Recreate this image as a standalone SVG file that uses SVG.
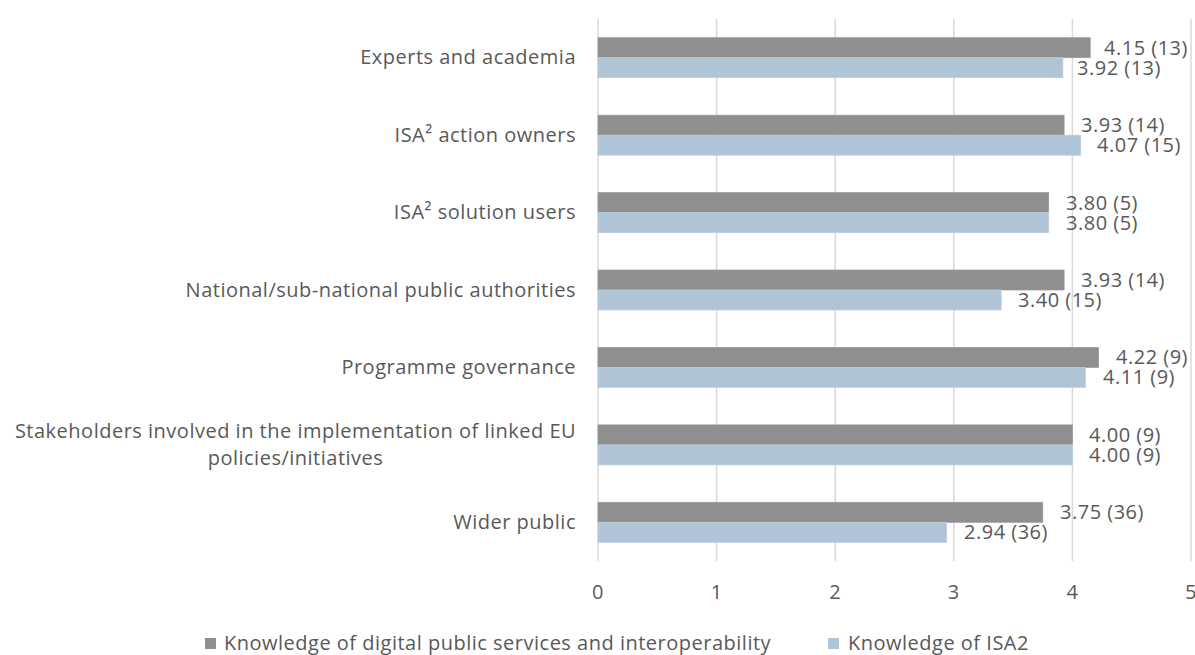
<svg xmlns="http://www.w3.org/2000/svg" width="1195" height="655" viewBox="0 0 1195 655">
<style>
text{font-family:"Open Sans","Liberation Sans",sans-serif;font-size:20px;fill:#595959;letter-spacing:0.5px}
.cat{text-anchor:end}
.mid{text-anchor:middle}
.g{fill:#8f8f8f;stroke:#9a9a9a;stroke-width:0.75}
.b{fill:#afc4d6;stroke:#bccfdf;stroke-width:0.75}
.grid{stroke:#d9d9d9;stroke-width:1.5;fill:none}
</style>
<rect width="1195" height="655" fill="#ffffff"/>
<g id="gridlines">
<line class="grid" x1="598" y1="19" x2="598" y2="561"/>
<line class="grid" x1="716.6" y1="19" x2="716.6" y2="561"/>
<line class="grid" x1="835.2" y1="19" x2="835.2" y2="561"/>
<line class="grid" x1="953.8" y1="19" x2="953.8" y2="561"/>
<line class="grid" x1="1072.4" y1="19" x2="1072.4" y2="561"/>
<line class="grid" x1="1191" y1="19" x2="1191" y2="561"/>
</g>
<g id="axis-labels">
<text class="mid" x="598" y="599">0</text>
<text class="mid" x="716.6" y="599">1</text>
<text class="mid" x="835.2" y="599">2</text>
<text class="mid" x="953.8" y="599">3</text>
<text class="mid" x="1072.4" y="599">4</text>
<text class="mid" x="1191" y="599">5</text>
</g>
<g id="row-experts">
<text class="cat" x="576" y="64">Experts and academia</text>
<rect class="g" x="598" y="37.7" width="492.2" height="20"/>
<rect class="b" x="598" y="57.7" width="464.9" height="20"/>
<text x="1104" y="54.5">4.15 (13)</text>
<text x="1077" y="74.5">3.92 (13)</text>
</g>
<g id="row-action-owners">
<text class="cat" x="576" y="141.5">ISA² action owners</text>
<rect class="g" x="598" y="115.2" width="466.1" height="20"/>
<rect class="b" x="598" y="135.2" width="482.7" height="20"/>
<text x="1081" y="132">3.93 (14)</text>
<text x="1097" y="152">4.07 (15)</text>
</g>
<g id="row-solution-users">
<text class="cat" x="576" y="219">ISA² solution users</text>
<rect class="g" x="598" y="192.6" width="450.7" height="20"/>
<rect class="b" x="598" y="212.6" width="450.7" height="20"/>
<text x="1066" y="209.5">3.80 (5)</text>
<text x="1066" y="229.5">3.80 (5)</text>
</g>
<g id="row-national">
<text class="cat" x="576" y="296.5">National/sub-national public authorities</text>
<rect class="g" x="598" y="270" width="466.1" height="20"/>
<rect class="b" x="598" y="290" width="403.2" height="20"/>
<text x="1081" y="287">3.93 (14)</text>
<text x="1018" y="307">3.40 (15)</text>
</g>
<g id="row-programme">
<text class="cat" x="576" y="374">Programme governance</text>
<rect class="g" x="598" y="347.4" width="500.5" height="20"/>
<rect class="b" x="598" y="367.4" width="487.4" height="20"/>
<text x="1116" y="364">4.22 (9)</text>
<text x="1103" y="384">4.11 (9)</text>
</g>
<g id="row-stakeholders">
<text class="mid" x="295.5" y="437.5">Stakeholders involved in the implementation of linked EU</text>
<text class="mid" x="295.5" y="464.5">policies/initiatives</text>
<rect class="g" x="598" y="424.9" width="474.4" height="20"/>
<rect class="b" x="598" y="444.9" width="474.4" height="20"/>
<text x="1089" y="441.5">4.00 (9)</text>
<text x="1089" y="461.5">4.00 (9)</text>
</g>
<g id="row-wider-public">
<text class="cat" x="576" y="528.5">Wider public</text>
<rect class="g" x="598" y="502.3" width="444.8" height="20"/>
<rect class="b" x="598" y="522.3" width="348.7" height="20"/>
<text x="1060" y="519">3.75 (36)</text>
<text x="964" y="539">2.94 (36)</text>
</g>
<g id="legend">
<rect x="205" y="638" width="11" height="11" fill="#8f8f8f"/>
<text x="224" y="650">Knowledge of digital public services and interoperability</text>
<rect x="828" y="638" width="11" height="11" fill="#afc4d6"/>
<text x="848" y="650">Knowledge of ISA2</text>
</g>
</svg>
